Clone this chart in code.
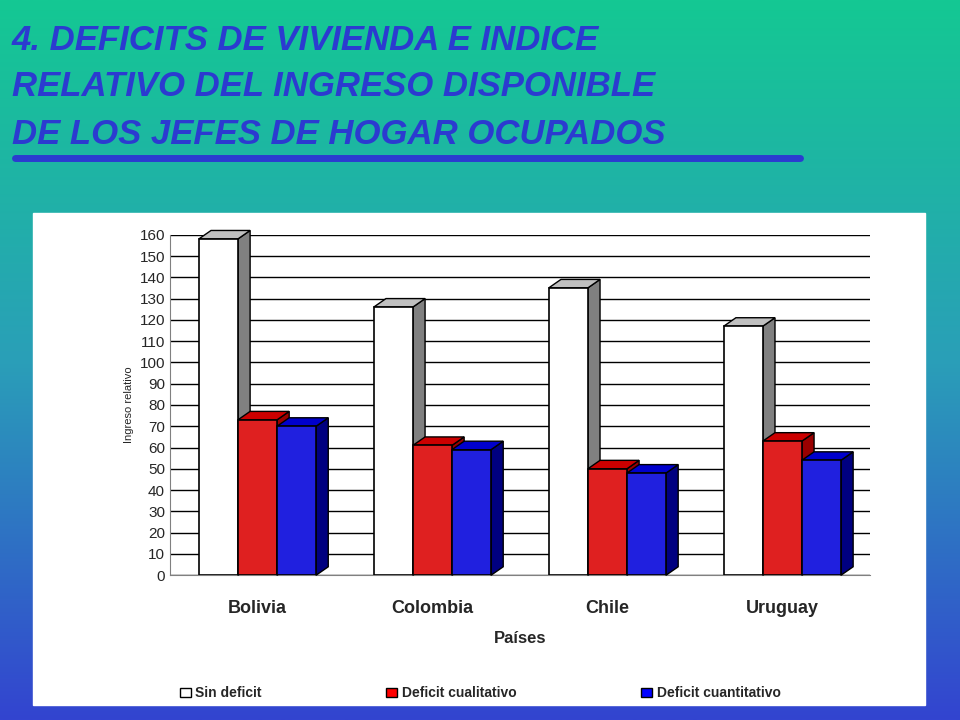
import numpy as np, pandas as pd, matplotlib
matplotlib.use("Agg")
import matplotlib.pyplot as plt, seaborn as sns
from matplotlib.patches import Polygon, Rectangle
import matplotlib.colors as mc

paises = ["Bolivia", "Colombia", "Chile", "Uruguay"]
series = ["Sin deficit", "Deficit cualitativo", "Deficit cuantitativo"]
sin_deficit = [158, 126, 135, 117]
cualitativo = [73, 61, 50, 63]
cuantitativo = [70, 59, 48, 54]
colors = ["#FFFFFF", "#FF0000", "#0000FF"]
side_colors = ["#808080", "#990000", "#000080"]
top_colors = ["#C0C0C0", "#CC0000", "#0000CC"]

df = pd.DataFrame({"Países": paises * 3,
                   "serie": sum([[s] * 4 for s in series], []),
                   "valor": sin_deficit + cualitativo + cuantitativo})

sns.set_style("white")
plt.rcParams['font.family'] = ['Liberation Sans', 'DejaVu Sans']
fig = plt.figure(figsize=(9.6, 7.2), dpi=100)
bg = fig.add_axes([0, 0, 1, 1], zorder=-10)
grad = np.linspace(0, 1, 256)[:, None]
cmap = mc.LinearSegmentedColormap.from_list("g", ["#14C893", "#2A9FB8", "#3344D0"])
bg.imshow(grad, aspect="auto", cmap=cmap, extent=[0, 1, 0, 1], origin="upper")
bg.set_axis_off()
bg.add_patch(Rectangle((33/960, 1-705/720), (925-33)/960, (705-213)/720, color="white", transform=bg.transAxes))
for i, t in enumerate(["4. DEFICITS DE VIVIENDA E INDICE", "RELATIVO DEL INGRESO DISPONIBLE", "DE LOS JEFES DE HOGAR OCUPADOS"]):
    fig.text(12/960, 1-(40+47*i)/720, t, fontsize=25, fontweight="bold", style="italic", color="#2B3BD0", va="center")
bg.plot([15/960, 800/960], [1-158/720]*2, color="#2B3BD0", lw=5, transform=bg.transAxes)

ax = fig.add_axes([0.177, 0.201, 0.729, 0.473])
sns.barplot(data=df, x="Países", y="valor", hue="serie", palette=colors, ax=ax,
            edgecolor="black", linewidth=1.2, width=0.67, legend=False, zorder=3)
ax.set_ylim(0, 160)
ax.set_yticks(range(0, 161, 10))
ax.yaxis.grid(True, color="black", lw=1, zorder=0)
ax.tick_params(axis="y", labelsize=11, length=0)
ax.tick_params(axis="x", labelsize=13, length=0, pad=18)
for l in ax.get_xticklabels(): l.set_fontweight("bold")
ax.set_xlabel("Países", fontsize=12, fontweight="bold", labelpad=10)
ax.set_ylabel("Ingreso relativo", fontsize=8)
for s in ["top", "right"]: ax.spines[s].set_visible(False)
ax.spines["left"].set_color("gray"); ax.spines["bottom"].set_color("gray")
dx, dy = 0.07, 4
for hi, cont in enumerate(ax.containers):
    for p in cont:
        x0, w, h = p.get_x(), p.get_width(), p.get_height()
        ax.add_patch(Polygon([(x0+w, 0), (x0+w+dx, dy), (x0+w+dx, h+dy), (x0+w, h)], closed=True,
                             fc=side_colors[hi], ec="black", lw=1, zorder=2.9 + 0.01*hi, clip_on=False))
        ax.add_patch(Polygon([(x0, h), (x0+dx, h+dy), (x0+w+dx, h+dy), (x0+w, h)], closed=True,
                             fc=top_colors[hi], ec="black", lw=1, zorder=2.9 + 0.01*hi, clip_on=False))
handles = [Rectangle((0, 0), 1, 1, fc=c, ec="black") for c in colors]
fig.legend(handles, series, loc="lower center", bbox_to_anchor=(0.5, 0.01), ncol=3, frameon=False,
           fontsize=10, columnspacing=9, handlelength=0.8, handletextpad=0.3,
           prop={"weight": "bold", "size": 10})
fig.savefig("out.png", dpi=100)
